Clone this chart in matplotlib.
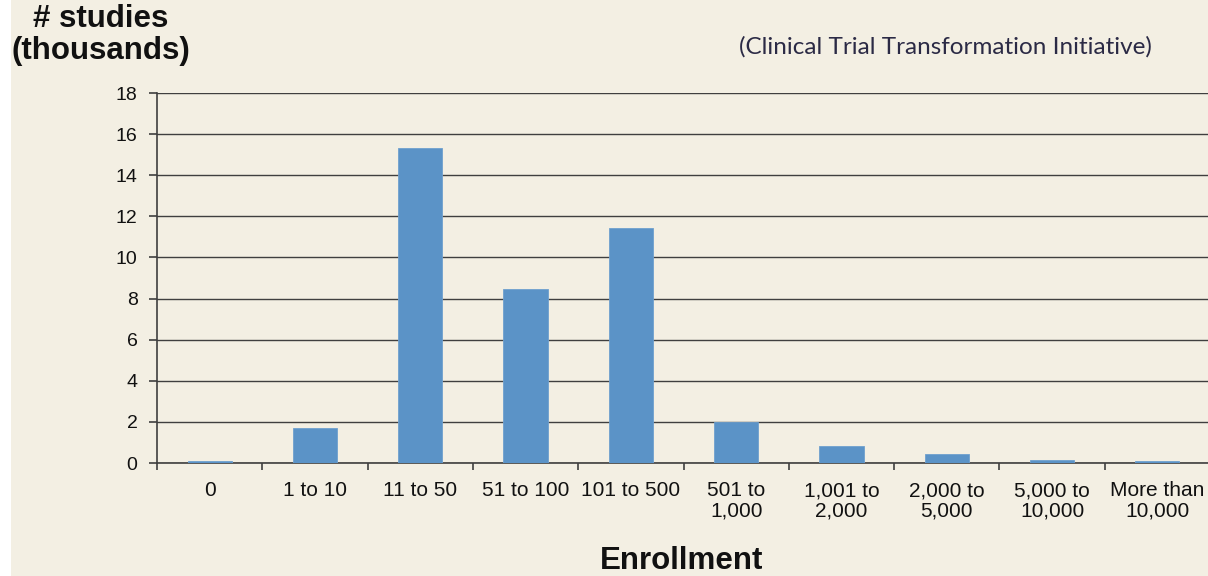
import matplotlib.pyplot as plt
import numpy as np
from matplotlib.patches import Rectangle

# enrollment buckets and number of studies (thousands)
categories = ["0", "1 to 10", "11 to 50", "51 to 100", "101 to 500",
              "501 to\n1,000", "1,001 to\n2,000", "2,000 to\n5,000",
              "5,000 to\n10,000", "More than\n10,000"]
studies = [0.1, 1.7, 15.3, 8.45, 11.45, 2.0, 0.84, 0.44, 0.15, 0.12]
yticks = [0, 2, 4, 6, 8, 10, 12, 14, 16, 18]

bg = "#F3EFE3"
bar_color = "#5B93C7"
line_color = "#3F3F3F"

plt.rcParams['font.family'] = ['Liberation Sans', 'DejaVu Sans']

fig = plt.figure(figsize=(12.08, 5.76), dpi=100, facecolor=bg)
# thin white strip at the left edge
fig.patches.append(Rectangle((0, 0), 11 / 1208, 1, transform=fig.transFigure,
                             facecolor="white", edgecolor="none", zorder=0))

ax = fig.add_axes([157 / 1208, 1 - 463 / 576, 1053 / 1208, 370 / 576])
ax.set_facecolor(bg)

x = np.arange(len(categories))
ax.bar(x, studies, width=0.42, color=bar_color, edgecolor="#6FA0CF",
       linewidth=0.6, zorder=3)

ax.set_xlim(-0.5, len(categories) - 0.5)
ax.set_ylim(0, 18)
ax.set_yticks(yticks)
ax.yaxis.grid(True, color=line_color, linewidth=1.0, zorder=1)

# x ticks sit at bucket boundaries, labels at centres
ax.set_xticks(np.arange(len(categories) + 1) - 0.5)
ax.set_xticklabels([])
ax.set_xticks(x, minor=True)
ax.set_xticklabels(categories, minor=True, fontsize=15, linespacing=1.1,
                   color="#111111")
ax.tick_params(axis="x", which="minor", length=0, pad=13)
ax.tick_params(axis="x", which="major", length=5, width=1.2, color=line_color)
ax.tick_params(axis="y", length=6, width=1.2, color=line_color,
               labelsize=14, pad=8, labelcolor="#111111")

for s in ["top", "right"]:
    ax.spines[s].set_visible(False)
ax.spines["left"].set_color(line_color)
ax.spines["left"].set_linewidth(1.2)
ax.spines["bottom"].set_color(line_color)
ax.spines["bottom"].set_linewidth(1.2)

fig.text(101 / 1208, 1 - 4 / 576, "# studies\n(thousands)", ha="center",
         va="top", fontsize=22.5, fontweight="bold", color="#111111",
         linespacing=1.1)
fig.text(682 / 1208, 1 - 569 / 576, "Enrollment", ha="center",
         va="baseline", fontsize=22.5, fontweight="bold", color="#111111")
fig.text(945 / 1208, 1 - 47 / 576, "(Clinical Trial Transformation Initiative)",
         ha="center", va="center", fontsize=17.5, color="#2B2A45",
         family=["Lato", "DejaVu Sans"])

fig.savefig("out.png", dpi=100, facecolor=bg)
